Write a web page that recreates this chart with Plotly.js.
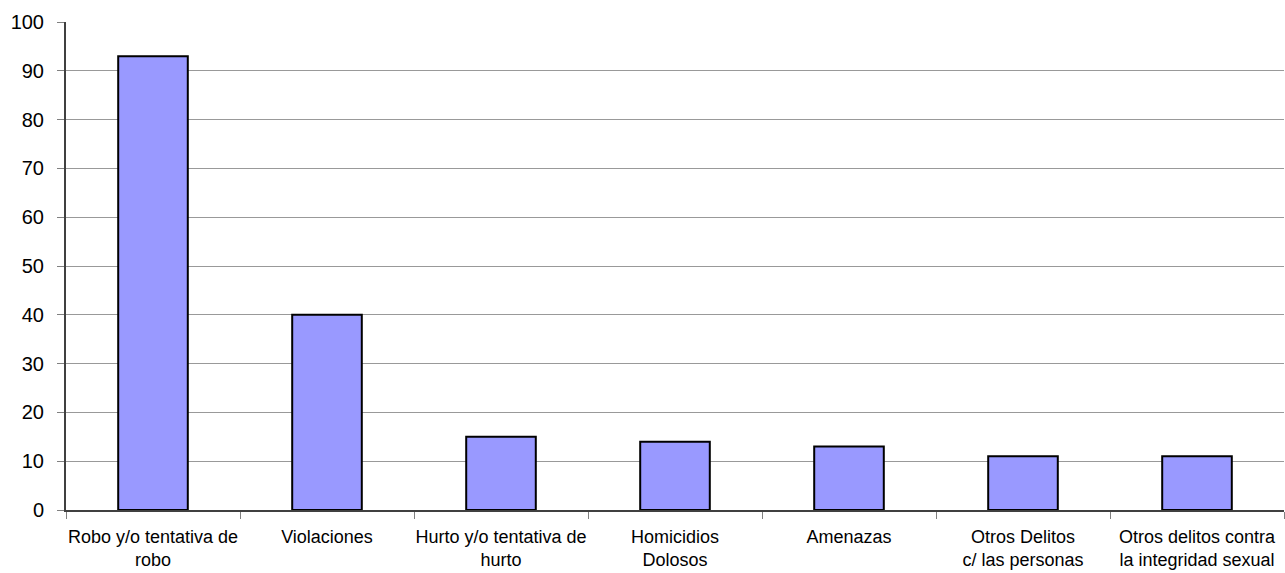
<!DOCTYPE html>
<html>
<head>
<meta charset="utf-8">
<script src="https://cdn.plot.ly/plotly-3.0.1.min.js"></script>
<style>html,body{margin:0;padding:0;background:#fff;}#chart{width:1285px;height:573px;}</style>
</head>
<body>
<div id="chart"></div>
<script>
const categories = [
  "Robo y/o tentativa de<br>robo",
  "Violaciones",
  "Hurto y/o tentativa de<br>hurto",
  "Homicidios<br>Dolosos",
  "Amenazas",
  "Otros Delitos<br>c/ las personas",
  "Otros delitos contra<br>la integridad sexual"
];
const values = [93, 40, 15, 14, 13, 11, 11];
const yTicks = [0, 10, 20, 30, 40, 50, 60, 70, 80, 90, 100];

const trace = {
  type: "bar",
  x: categories,
  y: values,
  marker: { color: "#9999FF", line: { color: "#000000", width: 2 } },
  hoverinfo: "none"
};

const layout = {
  width: 1285,
  height: 573,
  margin: { l: 66, r: 1, t: 22, b: 63 },
  paper_bgcolor: "#ffffff",
  plot_bgcolor: "#ffffff",
  showlegend: false,
  bargap: 0.6,
  xaxis: {
    type: "category",
    tickson: "boundaries",
    ticks: "outside",
    ticklen: 7,
    tickwidth: 1,
    tickcolor: "#808080",
    showline: true,
    linecolor: "#404040",
    linewidth: 2,
    showgrid: false,
    ticklabelstandoff: 9,
    tickfont: { family: "'Liberation Sans Narrow', 'Arial Narrow', 'Liberation Sans', Arial, sans-serif", size: 18, color: "#000" },
    tickangle: 0
  },
  yaxis: {
    range: [0, 100],
    tickvals: yTicks,
    ticktext: yTicks.map(String),
    ticks: "outside",
    ticklen: 7,
    tickwidth: 1,
    tickcolor: "#808080",
    showline: true,
    linecolor: "#404040",
    linewidth: 2,
    showgrid: true,
    gridcolor: "#999999",
    gridwidth: 1,
    zeroline: false,
    ticklabelstandoff: 9,
    tickfont: { family: "'Liberation Sans', Arial, sans-serif", size: 20, color: "#000" }
  }
};

Plotly.newPlot("chart", [trace], layout, { displayModeBar: false, staticPlot: true });
</script>
</body>
</html>
